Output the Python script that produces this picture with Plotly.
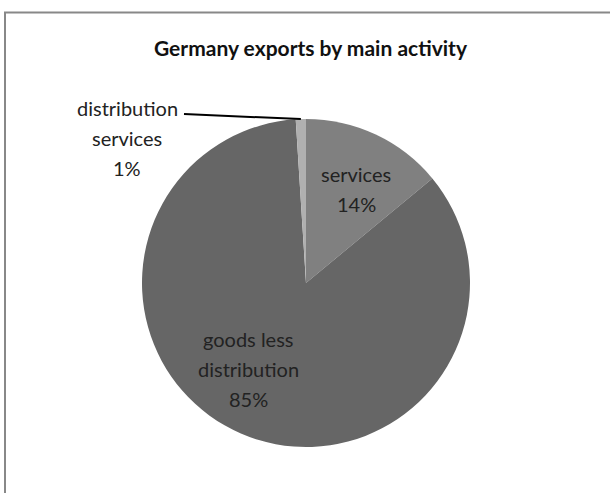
import math
import plotly.graph_objects as go

# ---- data ----
categories = ["services", "goods less distribution", "distribution services"]
label_lines = [["services"], ["goods less", "distribution"], ["distribution", "services"]]
values = [14, 85, 1]
colors = ["#808080", "#666666", "#b0b0b0"]
title_text = "Germany exports by main activity"

# ---- layout geometry (pixels) ----
W, H = 610, 493
cx, cy, r = 306, 283, 164
label_centers = [(356, 189), (249, 369), (127, 138)]
line_gap = 30
font_family = "Lato, 'Open Sans', sans-serif"


def px(x):
    return x / W


def py(y):
    return 1 - y / H


total = sum(values)
fig = go.Figure(
    go.Pie(
        labels=categories,
        values=values,
        sort=False,
        direction="clockwise",
        rotation=0,
        marker=dict(colors=colors, line=dict(width=0)),
        textinfo="none",
        hoverinfo="label+percent",
        showlegend=False,
        domain=dict(x=[px(cx - r), px(cx + r)], y=[py(cy + r), py(cy - r)]),
    )
)

annotations = []
for lines, v, (lx, ly) in zip(label_lines, values, label_centers):
    all_lines = lines + [f"{round(v / total * 100)}%"]
    n = len(all_lines)
    for i, t in enumerate(all_lines):
        yy = ly + (i - (n - 1) / 2) * line_gap
        annotations.append(dict(
            x=px(lx), y=py(yy), xref="paper", yref="paper",
            text=t, showarrow=False, xanchor="center", yanchor="middle",
            font=dict(family=font_family, size=20, color="#222222"),
        ))

annotations.append(dict(
    x=px(311), y=py(47), xref="paper", yref="paper", text=f"<b>{title_text}</b>",
    showarrow=False, xanchor="center", yanchor="middle",
    font=dict(family=font_family, size=21, color="#111111"),
))

# leader line to the small slice midpoint
cum = sum(values[:2])
theta = math.radians(360 * (cum + values[2] / 2) / total)
ex = cx + r * math.sin(theta)
ey = cy - r * math.cos(theta)

shapes = [
    dict(type="rect", xref="paper", yref="paper",
         x0=px(5), x1=px(W + 10), y0=py(H + 10), y1=py(12.5),
         line=dict(color="#888888", width=2), fillcolor="rgba(0,0,0,0)"),
    dict(type="line", xref="paper", yref="paper",
         x0=px(184), y0=py(114), x1=px(ex), y1=py(ey),
         line=dict(color="#000000", width=2)),
]

fig.update_layout(
    width=W, height=H,
    margin=dict(l=0, r=0, t=0, b=0),
    paper_bgcolor="white", plot_bgcolor="white",
    annotations=annotations, shapes=shapes,
)

fig.write_html("out.html")
